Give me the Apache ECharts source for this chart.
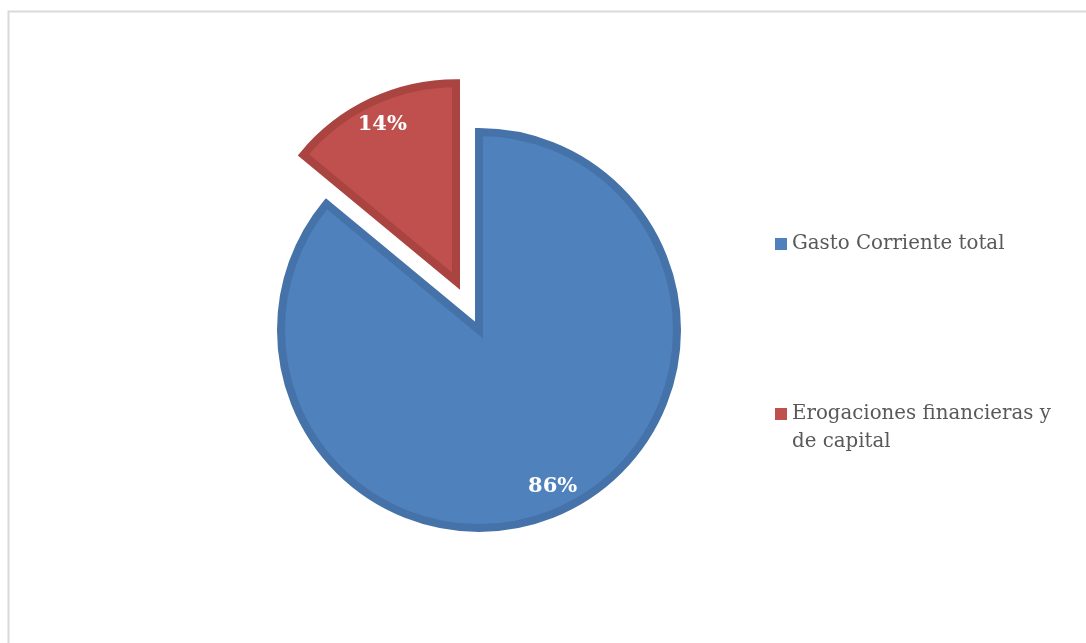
<!DOCTYPE html>
<html>
<head>
<meta charset="utf-8">
<script src="https://cdn.jsdelivr.net/npm/echarts@6/dist/echarts.min.js"></script>
<style>
html,body{margin:0;padding:0;background:#fff;}
#chart{width:1086px;height:643px;}
</style>
</head>
<body>
<div id="chart"></div>
<script>
const categories = ['Gasto Corriente total', 'Erogaciones financieras y\nde capital'];
const values = [86, 14];
const fillColors = ['#4F81BD', '#C0504D'];
const borderColors = ['#4572A8', '#A94441'];

const chart = echarts.init(document.getElementById('chart'), null, {renderer: 'canvas'});
const FONT = 'DejaVu Serif';
const CENTER = [479, 330];

const mainData = categories.map((c, i) => ({
  name: c, value: values[i], selected: i === 1,
  itemStyle: {color: fillColors[i], borderColor: borderColors[i], borderWidth: 8, borderJoin: 'miter'}
}));
const labelData = categories.map((c, i) => ({name: c, value: values[i], selected: i === 1}));

const legendText = {fontFamily: FONT, fontSize: 19.8, color: '#595959', lineHeight: 28};

chart.setOption({
  backgroundColor: '#ffffff',
  animation: false,
  graphic: [{
    type: 'rect', left: 6, top: 9, silent: true,
    shape: {width: 1200, height: 800},
    style: {fill: 'none', stroke: '#D9D9D9', lineWidth: 2}
  }],
  legend: [{
    orient: 'vertical', left: 770, top: 225,
    data: [categories[0]],
    icon: 'rect', itemWidth: 12, itemHeight: 12,
    itemStyle: {borderWidth: 0},
    textStyle: legendText,
    selectedMode: false
  }, {
    orient: 'vertical', left: 770, top: 367,
    data: [categories[1]],
    formatter: name => '\n' + name,
    icon: 'rect', itemWidth: 12, itemHeight: 12,
    itemStyle: {borderWidth: 0},
    textStyle: legendText,
    selectedMode: false
  }],
  series: [{
    type: 'pie',
    center: CENTER,
    radius: 198,
    startAngle: 90,
    clockwise: true,
    selectedMode: 'single',
    selectedOffset: 54,
    label: {show: false},
    labelLine: {show: false},
    emphasis: {disabled: true},
    data: mainData
  }, {
    type: 'pie',
    center: CENTER,
    radius: [140, 200],
    startAngle: 90,
    clockwise: true,
    silent: true,
    selectedMode: 'single',
    selectedOffset: 54,
    itemStyle: {color: 'rgba(0,0,0,0)'},
    label: {
      show: true, position: 'inside', formatter: '{d}%',
      fontFamily: FONT, fontWeight: 'bold', fontSize: 21, color: '#ffffff'
    },
    labelLine: {show: false},
    emphasis: {disabled: true},
    data: labelData
  }]
});
</script>
</body>
</html>
